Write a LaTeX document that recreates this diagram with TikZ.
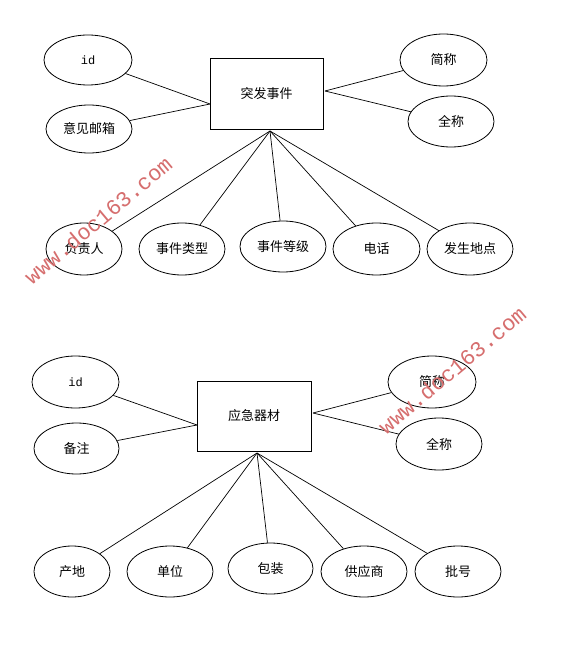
\documentclass[tikz,border=0pt]{standalone}
\usepackage{fontspec}
\newfontfamily\cjk{Noto Sans CJK SC}
\newfontfamily\monof{Liberation Mono}
\usetikzlibrary{shapes.geometric}
\definecolor{wmred}{RGB}{214,110,110}
\begin{document}
\begin{tikzpicture}[x=1pt,y=-1pt,
  attr/.style={draw, ellipse, line width=0.8pt, inner sep=0pt, font=\cjk\fontsize{13}{15}\selectfont},
  idattr/.style={attr, font=\monof\fontsize{12}{14}\selectfont},
  ent/.style={draw, rectangle, line width=0.8pt, inner sep=0pt, font=\cjk\fontsize{13}{15}\selectfont},
  link/.style={line width=0.7pt},
  wm/.style={text=wmred, font=\monof\fontsize{22}{22}\selectfont, rotate=40, inner sep=0pt}]
\useasboundingbox (0,0) rectangle (575,660);
\fill[white] (0,0) rectangle (575,660);

% ---------- top diagram ----------
\node[ent, minimum width=113, minimum height=71] (e1) at (266.5,93.5) {突发事件};
\coordinate (c1l) at (210,104);
\coordinate (c1r) at (325,91);
\coordinate (c1b) at (270,131);

\node[idattr, minimum width=88, minimum height=50] (id1) at (88,60) {id};
\node[attr, minimum width=86, minimum height=48] (yj) at (89,129) {意见邮箱};
\node[attr, minimum width=87, minimum height=52] (jc1) at (443.5,60) {简称};
\node[attr, minimum width=86, minimum height=51] (qc1) at (451,121.5) {全称};
\node[attr, minimum width=76, minimum height=52] (fzr) at (84,249) {负责人};
\node[attr, minimum width=86, minimum height=52] (lx) at (182,249) {事件类型};
\node[attr, minimum width=86, minimum height=51] (dj) at (283,246.5) {事件等级};
\node[attr, minimum width=87, minimum height=52] (dh) at (376.5,249) {电话};
\node[attr, minimum width=86, minimum height=52] (dd) at (470,249) {发生地点};

\draw[link] (c1l) -- (id1);
\draw[link] (c1l) -- (yj);
\draw[link] (c1r) -- (jc1);
\draw[link] (c1r) -- (qc1);
\draw[link] (c1b) -- (fzr);
\draw[link] (c1b) -- (lx);
\draw[link] (c1b) -- (dj);
\draw[link] (c1b) -- (dh);
\draw[link] (c1b) -- (dd);

% ---------- bottom diagram ----------
\node[ent, minimum width=114, minimum height=70] (e2) at (254,416) {应急器材};
\coordinate (c2l) at (197,425);
\coordinate (c2r) at (313,413);
\coordinate (c2b) at (257,453);

\node[idattr, minimum width=87, minimum height=52] (id2) at (75.5,382) {id};
\node[attr, minimum width=85, minimum height=51] (bz) at (76.5,448.5) {备注};
\node[attr, minimum width=88, minimum height=52] (jc2) at (432,382) {简称};
\node[attr, minimum width=86, minimum height=52] (qc2) at (439,444) {全称};
\node[attr, minimum width=76, minimum height=51] (cd) at (72,571.5) {产地};
\node[attr, minimum width=86, minimum height=51] (dw) at (170,571.5) {单位};
\node[attr, minimum width=85, minimum height=51] (bzh) at (270.5,568.5) {包装};
\node[attr, minimum width=86, minimum height=51] (gys) at (364,571.5) {供应商};
\node[attr, minimum width=86, minimum height=51] (ph) at (458,571.5) {批号};

\draw[link] (c2l) -- (id2);
\draw[link] (c2l) -- (bz);
\draw[link] (c2r) -- (jc2);
\draw[link] (c2r) -- (qc2);
\draw[link] (c2b) -- (cd);
\draw[link] (c2b) -- (dw);
\draw[link] (c2b) -- (bzh);
\draw[link] (c2b) -- (gys);
\draw[link] (c2b) -- (ph);

% ---------- watermarks ----------
\node[wm] (wm1) at (98,220) {www.doc163.com};
\node[wm] (wm2) at (452,370) {www.doc163.com};
\end{tikzpicture}
\end{document}
